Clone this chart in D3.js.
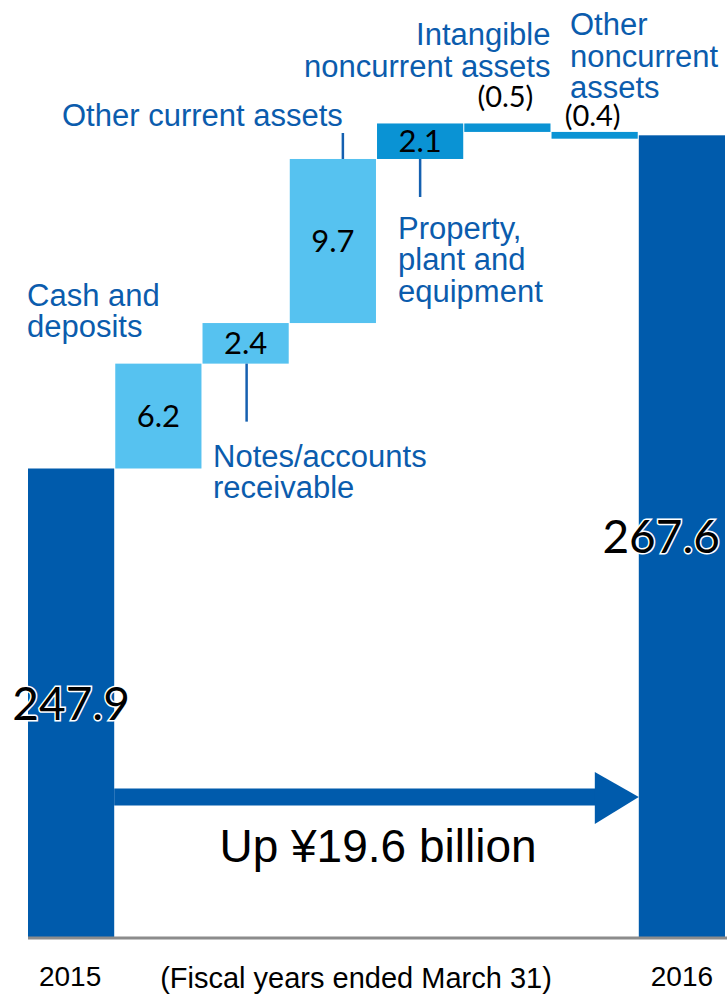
<!DOCTYPE html>
<html>
<head>
<meta charset="utf-8">
<script src="https://cdn.jsdelivr.net/npm/d3@7"></script>
<style>
    body { margin: 0; background: #fff; }
    svg { display: block; }
    .label { font-family: 'Liberation Sans', Arial, sans-serif; font-size: 31px; fill: #0b5cad; }
    .num { font-family: Lato, 'Open Sans', sans-serif; fill: #000; }
    .year { font-family: 'Liberation Sans Narrow', 'Liberation Sans', Arial, sans-serif; font-size: 28px; fill: #000; }
</style>
</head>
<body>
<svg id="waterfall"></svg>
<script>
//DATA
var categories = ['2015', 'Cash and deposits', 'Notes/accounts receivable', 'Other current assets',
    'Property, plant and equipment', 'Intangible noncurrent assets', 'Other noncurrent assets', '2016'];
var groups = ['total', 'current', 'current', 'current', 'noncurrent', 'noncurrent', 'noncurrent', 'total'];
var values = [247.9, 6.2, 2.4, 9.7, 2.1, -0.5, -0.4, 267.6];
var valueLabels = ['247.9', '6.2', '2.4', '9.7', '2.1', '(0.5)', '(0.4)', '267.6'];
var labelLines = [
    [],
    ['Cash and', 'deposits'],
    ['Notes/accounts', 'receivable'],
    ['Other current assets'],
    ['Property,', 'plant and', 'equipment'],
    ['Intangible', 'noncurrent assets'],
    ['Other', 'noncurrent', 'assets'],
    []
];
var yearLabels = ['2015', '2016'];
var note = '(Fiscal years ended March 31)';
var changeText = 'Up \u00a519.6 billion';

function waterfall() {
    //chart parameters
    var svg = d3.select('#waterfall')
        .attr('width', 728)
        .attr('height', 995);

    var baseY = 937,
        lineH = 31.5;

    //colors by group
    var color = {total: '#005bac', current: '#56c2f0', noncurrent: '#0a93d4'};

    //running totals
    var running = 0;
    var data = categories.map((c, i) => {
        var d = {name: c, group: groups[i], label: valueLabels[i], lines: labelLines[i]};
        if (groups[i] == 'total') {
            d.start = null; d.end = values[i]; running = values[i];
        } else {
            d.start = running; running += values[i]; d.end = running;
        }
        return d;
    });

    //define scales (axis broken, does not start at zero)
    var xScale = d3.scaleBand().domain(categories).range([28, 725]).paddingInner(0.012),
        yScale = d3.scaleLinear().domain([220.2, 275.6]).range([baseY, 0]);

    var top = d => d.start == null ? yScale(d.end) : yScale(Math.max(d.start, d.end)),
        bottom = d => d.start == null ? baseY : yScale(Math.min(d.start, d.end)),
        cx = d => xScale(d.name) + xScale.bandwidth() / 2;

    //draw bars
    svg.selectAll('rect.bar').data(data)
        .enter().append('rect')
            .attr('class', 'bar')
            .attr('x', d => xScale(d.name))
            .attr('y', d => top(d))
            .attr('width', xScale.bandwidth())
            .attr('height', d => bottom(d) - top(d))
            .style('fill', d => color[d.group]);

    //baseline
    svg.append('line')
        .attr('x1', 28).attr('x2', 727)
        .attr('y1', baseY + 1).attr('y2', baseY + 1)
        .style('stroke', '#8c8c8c')
        .style('stroke-width', 3);

    //values inside increase bars
    svg.selectAll('text.inc').data(data.filter(d => d.group != 'total' && d.end > d.start))
        .enter().append('text')
            .attr('class', 'num')
            .attr('x', cx)
            .attr('y', d => (top(d) + bottom(d)) / 2 + 11)
            .attr('text-anchor', 'middle')
            .style('font-size', '31px')
            .text(d => d.label);

    //values above decrease bars
    var decOffset = [16, 6];
    svg.selectAll('text.dec').data(data.filter(d => d.group != 'total' && d.end < d.start))
        .enter().append('text')
            .attr('class', 'num')
            .attr('x', d => cx(d) - 2)
            .attr('y', (d, i) => top(d) - decOffset[i])
            .attr('text-anchor', 'middle')
            .style('font-size', '29px')
            .text(d => d.label);

    //totals, outlined
    svg.selectAll('text.total').data(data.filter(d => d.group == 'total'))
        .enter().append('text')
            .attr('class', 'num')
            .attr('x', (d, i) => i == 0 ? cx(d) : xScale(d.name) + xScale.bandwidth() - 5)
            .attr('y', d => (top(d) + bottom(d)) / 2 + 17)
            .attr('text-anchor', (d, i) => i == 0 ? 'middle' : 'end')
            .style('font-size', '46px')
            .style('stroke', '#fff')
            .style('stroke-width', 3)
            .style('paint-order', 'stroke')
            .text(d => d.label);

    //category labels: [x, first baseline, anchor]
    var d1 = data[1], d2 = data[2], d3_ = data[3], d4 = data[4], d5 = data[5];
    var labelPos = [
        null,
        [27, top(d1) - 58, 'start'],
        [213, bottom(d1) - 2, 'start'],
        [62, top(d3_) - 33, 'start'],
        [398, bottom(d4) + 80, 'start'],
        [xScale(d5.name) + xScale.bandwidth(), 45, 'end'],
        [570, 35, 'start'],
        null
    ];
    data.forEach((d, i) => {
        if (!labelPos[i]) return;
        var t = svg.append('text')
            .attr('class', 'label')
            .attr('text-anchor', labelPos[i][2]);
        d.lines.forEach((line, j) => {
            t.append('tspan')
                .attr('x', labelPos[i][0])
                .attr('y', labelPos[i][1] + j * lineH)
                .text(line);
        });
    });

    //leader lines
    var leaders = [
        [cx(d2) + 1, bottom(d2), bottom(d2) + 58],
        [cx(d3_) + 10, top(d3_) - 26, top(d3_)],
        [cx(d4), bottom(d4), bottom(d4) + 38]
    ];
    svg.selectAll('line.leader').data(leaders)
        .enter().append('line')
            .attr('x1', d => d[0]).attr('x2', d => d[0])
            .attr('y1', d => d[1]).attr('y2', d => d[2])
            .style('stroke', '#1560b0')
            .style('stroke-width', 2.5);

    //change arrow from 2015 to 2016
    var ax0 = xScale(categories[0]) + xScale.bandwidth(),
        ax1 = xScale(categories[7]),
        ay = 797;
    svg.append('rect')
        .attr('x', ax0)
        .attr('y', ay - 8.5)
        .attr('width', ax1 - ax0 - 40)
        .attr('height', 17)
        .style('fill', '#005bac');
    svg.append('path')
        .attr('d', 'M' + (ax1 - 44) + ',' + (ay - 25) + 'L' + ax1 + ',' + ay + 'L' + (ax1 - 44) + ',' + (ay + 27) + 'Z')
        .style('fill', '#005bac');

    svg.append('text')
        .attr('x', 378)
        .attr('y', 862)
        .attr('text-anchor', 'middle')
        .style('font-family', "'Liberation Sans', Arial, sans-serif")
        .style('font-size', '46px')
        .style('fill', '#000')
        .text(changeText);

    //year labels
    svg.selectAll('text.year').data([data[0], data[7]])
        .enter().append('text')
            .attr('class', 'year')
            .attr('x', (d, i) => cx(d) - (i == 0 ? 1 : 0))
            .attr('y', 986)
            .attr('text-anchor', 'middle')
            .text((d, i) => yearLabels[i]);

    svg.append('text')
        .attr('x', 356)
        .attr('y', 988)
        .attr('text-anchor', 'middle')
        .style('font-family', "'Liberation Sans', Arial, sans-serif")
        .style('font-size', '29px')
        .style('fill', '#000')
        .text(note);
};

waterfall();
</script>
</body>
</html>
